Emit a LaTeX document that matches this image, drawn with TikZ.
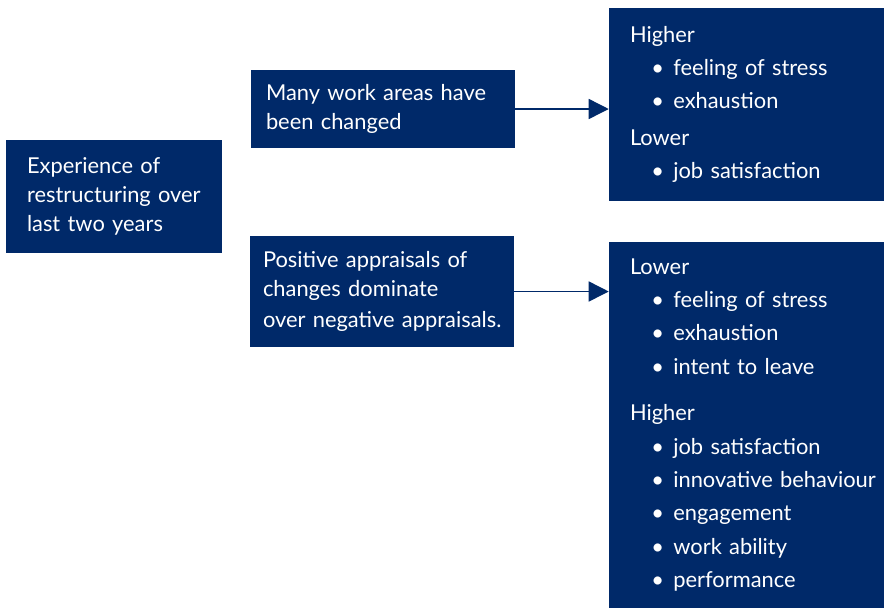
\documentclass[tikz,border=0pt]{standalone}
\usepackage{fontspec}
\setmainfont{Lato}
\usetikzlibrary{arrows.meta}
\definecolor{navy}{RGB}{0,41,105}
\newcommand{\itm}[1]{\mbox{\hspace*{16pt}\textbullet\hspace{7pt}#1}}

\begin{document}
\begin{tikzpicture}[
    x=0.75pt, y=-0.75pt,
    box/.style={rectangle, fill=navy, text=white, align=left, inner ysep=0pt},
    cause/.style={box, font=\fontsize{16.4}{21.75}\selectfont},
    outcome/.style={box, font=\fontsize{16.4}{25}\selectfont, text width=174.75pt, inner xsep=15.75pt},
    link/.style={draw=navy, line width=1.1pt, -{Triangle[length=15pt,width=15pt]}}
]
\useasboundingbox (0,0) rectangle (884,608);

% Starting point
\node[cause, minimum height=84.75pt, text width=130.5pt, inner xsep=15.75pt] (restructuring) at (114,196.5) {Experience of\\\mbox{restructuring over}\\last two years};

% Two findings
\node[cause, minimum height=58.5pt, text width=175.5pt, inner xsep=11.25pt] (changed) at (383,109) {\mbox{Many work areas have}\\been changed};
\node[cause, minimum height=83.25pt, text width=178.5pt, inner xsep=9.75pt] (appraisals) at (382,291.5) {Positive appraisals of\\changes dominate\\[2pt]\mbox{over negative appraisals.}};

% Outcomes
\node[outcome, minimum height=144.75pt] (worse) at (746.5,104.5) {Higher\\\itm{feeling of stress}\\\itm{exhaustion}\\[2.6pt]Lower\\\itm{job satisfaction}};
\node[outcome, minimum height=274.5pt] (better) at (746.5,425) {Lower\\\itm{feeling of stress}\\\itm{exhaustion}\\\itm{intent to leave}\\[10pt]Higher\\\itm{job satisfaction}\\\itm{innovative behaviour}\\\itm{engagement}\\\itm{work ability}\\\itm{performance}};

% Connections
\draw[link] (changed.east) -- (changed.east -| worse.west);
\draw[link] (appraisals.east) -- (appraisals.east -| better.west);

\end{tikzpicture}
\end{document}
